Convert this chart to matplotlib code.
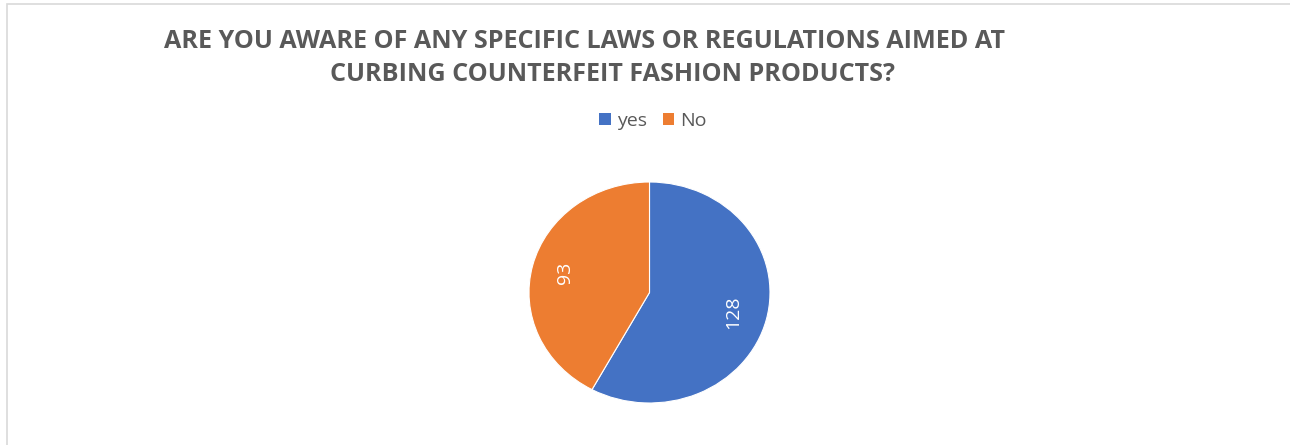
import matplotlib.pyplot as plt
from matplotlib.patches import Rectangle, Patch

# survey answers
answers = ["yes", "No"]
counts = [128, 93]
colors = ["#4472C4", "#ED7D31"]
title_lines = [
    "ARE YOU AWARE OF ANY SPECIFIC LAWS OR REGULATIONS AIMED AT",
    "CURBING COUNTERFEIT FASHION PRODUCTS?",
]

W, H = 1290, 445
fig = plt.figure(figsize=(W / 100, H / 100), dpi=100)
fig.patch.set_facecolor("white")

# light chart-area frame (right and bottom edges run off the canvas)
fig.add_artist(Rectangle((6.5 / W, -0.05), 1.1, 1 - 3.5 / H + 0.05,
                         transform=fig.transFigure, fill=False,
                         edgecolor="#d9d9d9", linewidth=1.2))

# pie is drawn slightly stretched, so the axes box sets its shape
ax = fig.add_axes([529 / W, 42 / H, 241 / W, 221 / H])
total = sum(counts)
wedges, _, autotexts = ax.pie(
    counts, colors=colors, startangle=90, counterclock=False, radius=1.0,
    wedgeprops=dict(edgecolor="white", linewidth=0.8),
    autopct=lambda p: f"{round(p * total / 100)}", pctdistance=0.72,
    textprops=dict(color="white", fontsize=14, rotation=90,
                   family="Open Sans"),
)
ax.set_aspect("auto")
ax.set_xlim(-1, 1)
ax.set_ylim(-1, 1)

title_kw = dict(ha="center", va="baseline", fontsize=18.1, fontweight="bold",
                color="#595959", family="Open Sans")
fig.text(584 / W, 1 - 48 / H, title_lines[0], **title_kw)
fig.text(613 / W, 1 - 81 / H, title_lines[1], **title_kw)

handles = [Patch(facecolor=c, edgecolor="none", label=a)
           for a, c in zip(answers, colors)]
leg = fig.legend(handles=handles, loc="center", bbox_to_anchor=(653 / W, 1 - 121 / H),
                 ncol=2, frameon=False, handlelength=0.6, handleheight=0.6,
                 handletextpad=0.3, columnspacing=0.8,
                 prop=dict(family="Open Sans", size=14))
for t in leg.get_texts():
    t.set_color("#595959")

fig.savefig("out.png", dpi=100)
